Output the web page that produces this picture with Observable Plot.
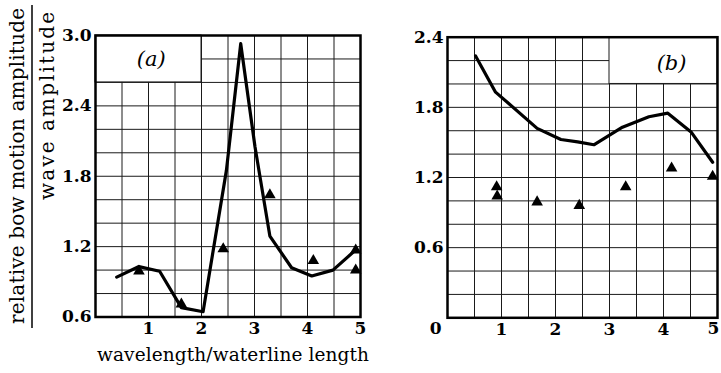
<!DOCTYPE html>
<html>
<head>
<meta charset="utf-8">
<script src="https://cdn.jsdelivr.net/npm/d3@7"></script>
<script src="https://cdn.jsdelivr.net/npm/@observablehq/plot@0.6"></script>
<style>
  html, body { margin: 0; padding: 0; background: #fff; }
  #wrap { position: relative; width: 721px; height: 373px; overflow: hidden; }
  .panel { position: absolute; top: 0; }
  #titles { position: absolute; left: 0; top: 0; pointer-events: none; }
</style>
</head>
<body>
<div id="wrap">
  <div id="panelA" class="panel" style="left:0px"></div>
  <div id="panelB" class="panel" style="left:380px"></div>
</div>
<script>
// Panel (a): computed response (line) and measured points (triangles)
const waveA     = [0.40, 0.82, 1.21, 1.62, 2.03, 2.47, 2.74, 3.01, 3.29, 3.70, 4.08, 4.48, 4.88];
const calcA     = [0.94, 1.03, 0.99, 0.68, 0.645, 1.85, 2.93, 2.05, 1.29, 1.02, 0.95, 1.00, 1.16];
const measWaveA = [0.82, 1.62, 2.41, 3.29, 4.11, 4.91, 4.91];
const measA     = [0.99, 0.71, 1.18, 1.64, 1.08, 1.17, 1.00];

// Panel (b)
const waveB     = [0.52, 0.89, 1.66, 2.10, 2.41, 2.71, 3.24, 3.73, 4.08, 4.51, 4.91];
const calcB     = [2.24, 1.93, 1.62, 1.525, 1.505, 1.48, 1.63, 1.72, 1.75, 1.59, 1.33];
const measWaveB = [0.91, 0.92, 1.66, 2.44, 3.30, 4.15, 4.91];
const measB     = [1.12, 1.04, 0.99, 0.96, 1.12, 1.28, 1.21];

// Axis ticks and grid lines
const xTicksA = [1, 2, 3, 4, 5];
const xTicksB = [1, 2, 3, 4];
const yTicksA = [0.6, 1.2, 1.8, 2.4, 3.0];
const yTicksB = [0.6, 1.2, 1.8, 2.4];
const xGrid   = [0.5, 1, 1.5, 2, 2.5, 3, 3.5, 4, 4.5];
const yGridA  = [0.8, 1.0, 1.2, 1.4, 1.6, 1.8, 2.0, 2.2, 2.4, 2.6, 2.8];
const yGridB  = [0.2, 0.4, 0.6, 0.8, 1.0, 1.2, 1.4, 1.6, 1.8, 2.0, 2.2];

const FONT = "DejaVu Serif, serif";
const toRows = (xs, ys) => xs.map((x, i) => ({x, y: ys[i]}));

function panel({width, left, right, top, bottom, yDomain, xTicks, yTicks, yGrid,
                box, label, labelPos, calc, meas, extra = []}) {
  return Plot.plot({
    width, height: 373,
    marginLeft: left, marginRight: right, marginTop: top, marginBottom: bottom,
    x: {domain: [0, 5]},
    y: {domain: yDomain},
    style: {fontFamily: FONT, fontSize: "17px", fontWeight: "bold", color: "#000", background: "transparent", overflow: "visible"},
    marks: [
      Plot.ruleX(xGrid, {stroke: "#1a1a1a", strokeWidth: 1, strokeOpacity: 1}),
      Plot.ruleY(yGrid, {stroke: "#1a1a1a", strokeWidth: 1, strokeOpacity: 1}),
      Plot.rect([box], {x1: "x1", x2: "x2", y1: "y1", y2: "y2", fill: "white", stroke: "#1a1a1a", strokeWidth: 1}),
      Plot.text([labelPos], {x: "x", y: "y", text: () => label, fontSize: 21, fontStyle: "italic", fontWeight: "normal", fontFamily: FONT}),
      Plot.line(calc, {x: "x", y: "y", stroke: "black", strokeWidth: 3.2, strokeLinejoin: "round", strokeLinecap: "round"}),
      Plot.dot(meas, {x: "x", y: "y", symbol: "triangle", fill: "black", stroke: "none", r: 4.3}),
      Plot.frame({stroke: "black", strokeWidth: 2.5}),
      Plot.axisX(xTicks, {tickSize: 0, tickPadding: 5, label: null, fontSize: 17}),
      Plot.axisY(yTicks, {tickSize: 0, tickPadding: 4, label: null, tickFormat: d => d.toFixed(1), fontSize: 17}),
      ...extra
    ]
  });
}

const plotA = panel({
  width: 380, left: 95, right: 20, top: 35, bottom: 56.5,
  yDomain: [0.6, 3.0], xTicks: xTicksA, yTicks: yTicksA, yGrid: yGridA,
  box: {x1: 0, x2: 2, y1: 2.6, y2: 3.0}, label: "(a)", labelPos: {x: 1.05, y: 2.8},
  calc: toRows(waveA, calcA), meas: toRows(measWaveA, measA)
});
document.getElementById("panelA").appendChild(plotA);

const plotB = panel({
  width: 341, left: 67, right: 4, top: 36.7, bottom: 55.7,
  yDomain: [0, 2.4], xTicks: xTicksB, yTicks: yTicksB, yGrid: yGridB,
  box: {x1: 3, x2: 5, y1: 2.0, y2: 2.4}, label: "(b)", labelPos: {x: 4.15, y: 2.18},
  calc: toRows(waveB, calcB), meas: toRows(measWaveB, measB),
  extra: [
    // shared origin label at the lower-left corner
    Plot.text([{x: 0, y: 0}], {x: "x", y: "y", text: () => "0", textAnchor: "end", dx: -6, dy: 11, fontSize: 17, fontWeight: "bold", fontFamily: FONT}),
    // last x tick, nudged in from the right edge
    Plot.text([{x: 5, y: 0}], {x: "x", y: "y", text: () => "5", dx: -4, dy: 11, fontSize: 17, fontWeight: "bold", fontFamily: FONT})
  ]
});
document.getElementById("panelB").appendChild(plotB);

// Axis titles: a fraction for y, plain text for x
const svg = d3.select("#wrap").append("svg")
  .attr("id", "titles").attr("width", 721).attr("height", 373)
  .style("font-family", FONT);

svg.append("text")
  .attr("transform", "translate(17,166) rotate(-90)")
  .attr("text-anchor", "middle").attr("dominant-baseline", "central")
  .attr("font-size", 20).attr("textLength", 316).attr("lengthAdjust", "spacing")
  .text("relative bow motion amplitude");

svg.append("line")
  .attr("x1", 32).attr("x2", 32).attr("y1", 5).attr("y2", 328)
  .attr("stroke", "black").attr("stroke-width", 1.5);

svg.append("text")
  .attr("transform", "translate(47,106) rotate(-90)")
  .attr("text-anchor", "middle").attr("dominant-baseline", "central")
  .attr("font-size", 20).attr("textLength", 188).attr("lengthAdjust", "spacing")
  .text("wave amplitude");

svg.append("text")
  .attr("x", 233).attr("y", 361)
  .attr("text-anchor", "middle")
  .attr("font-size", 18.5).attr("textLength", 272).attr("lengthAdjust", "spacing")
  .text("wavelength/waterline length");
</script>
</body>
</html>
